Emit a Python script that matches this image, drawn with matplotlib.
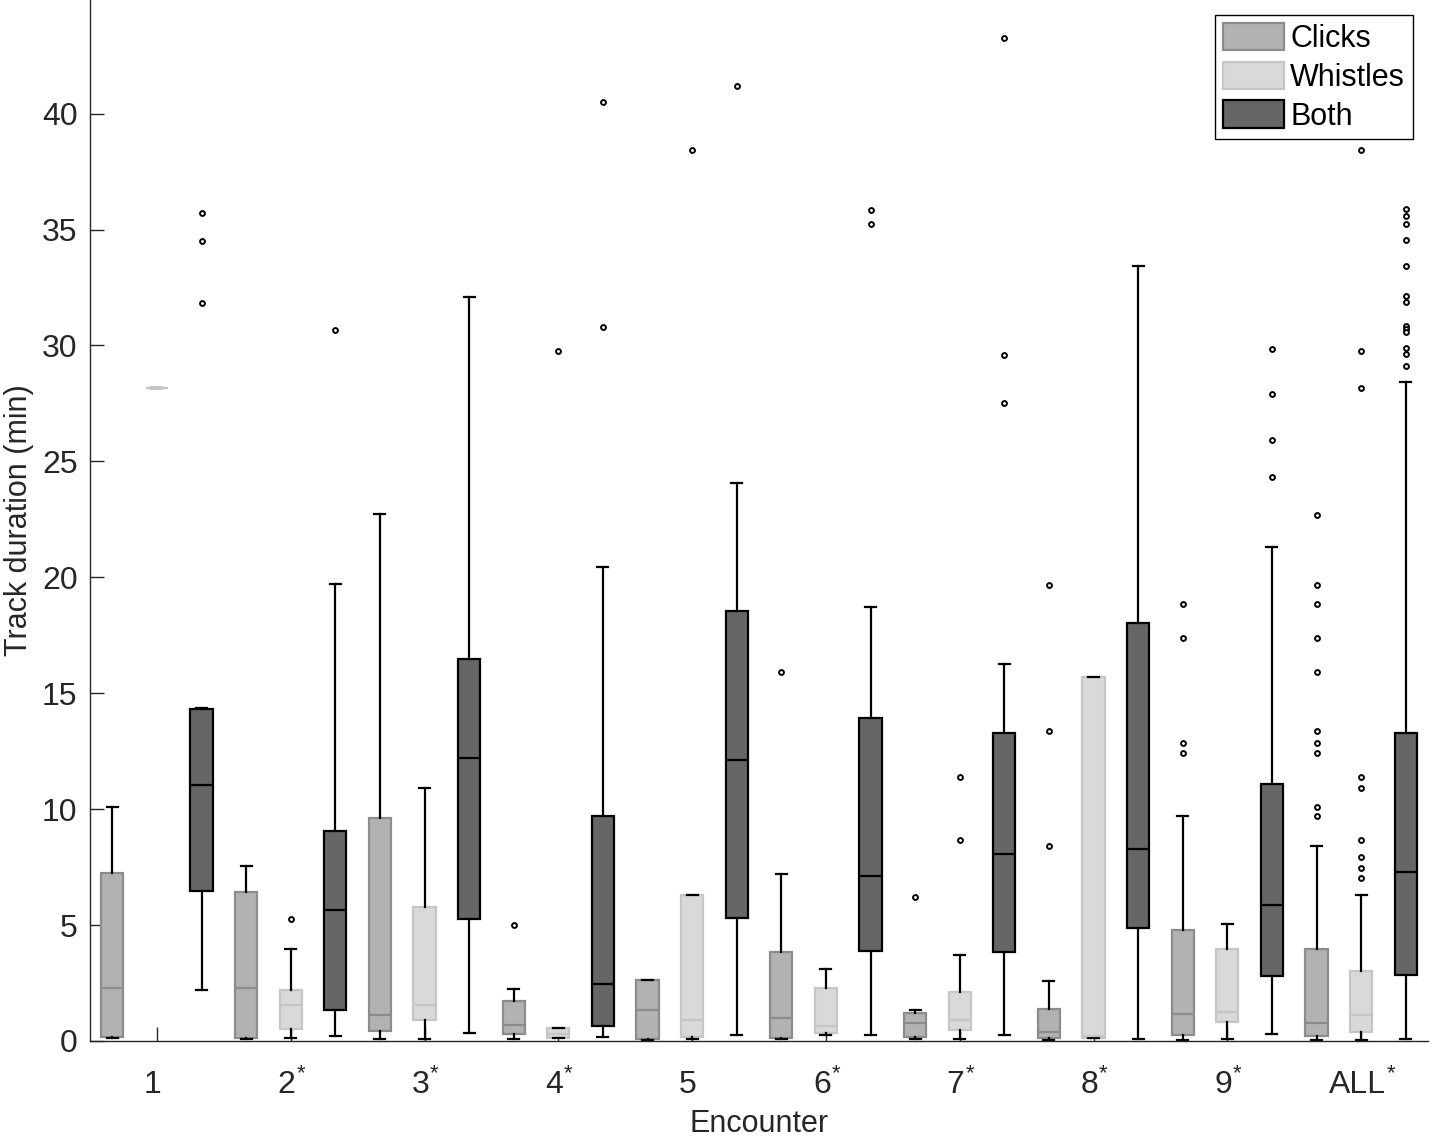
import matplotlib
matplotlib.use("Agg")
import matplotlib.pyplot as plt
from matplotlib.patches import Patch
from matplotlib.transforms import ScaledTranslation

plt.rcParams["font.family"] = ["Liberation Sans", "DejaVu Sans"]

encounters = ["1", "2", "3", "4", "5", "6", "7", "8", "9", "ALL"]
starred = [False, True, True, True, False, True, True, True, True, True]
types = ["Clicks", "Whistles", "Both"]

# box plot summary values (minutes)
clicks_lo = [0.11, 0.08, 0.08, 0.10, 0.05, 0.08, 0.08, 0.06, 0.06, 0.06]
clicks_q1 = [0.16, 0.13, 0.43, 0.29, 0.08, 0.13, 0.16, 0.13, 0.24, 0.21]
clicks_med = [2.30, 2.30, 1.14, 0.71, 1.35, 1.00, 0.79, 0.40, 1.16, 0.79]
clicks_q3 = [7.26, 6.42, 9.62, 1.74, 2.65, 3.85, 1.22, 1.39, 4.80, 3.98]
clicks_hi = [10.09, 7.56, 22.72, 2.25, 2.65, 7.21, 1.35, 2.58, 9.70, 8.42]
clicks_out = [[], [], [], [4.99], [], [15.93], [6.23],
              [19.67, 13.38, 8.42],
              [18.84, 17.38, 12.87, 12.42],
              [22.70, 19.67, 18.84, 17.38, 15.93, 13.38, 12.87, 12.42, 10.09, 9.71]]

whistles_lo = [28.15, 0.13, 0.08, 0.15, 0.08, 0.27, 0.08, 0.14, 0.08, 0.06]
whistles_q1 = [28.15, 0.52, 0.92, 0.15, 0.16, 0.36, 0.48, 0.14, 0.81, 0.38]
whistles_med = [28.15, 1.57, 1.57, 0.30, 0.92, 0.63, 0.89, 0.20, 1.25, 1.11]
whistles_q3 = [28.15, 2.22, 5.80, 0.57, 6.31, 2.27, 2.12, 15.71, 3.98, 3.03]
whistles_hi = [28.15, 3.98, 10.92, 0.57, 6.31, 3.09, 3.69, 15.71, 5.04, 6.29]
whistles_out = [[], [5.26], [], [29.75], [38.45], [], [11.39, 8.67], [], [],
                [38.45, 29.77, 28.16, 11.39, 10.92, 8.67, 7.94, 7.46, 7.04]]

both_lo = [2.22, 0.21, 0.35, 0.16, 0.27, 0.27, 0.27, 0.08, 0.30, 0.08]
both_q1 = [6.45, 1.33, 5.26, 0.63, 5.31, 3.88, 3.82, 4.88, 2.79, 2.84]
both_med = [11.06, 5.66, 12.20, 2.46, 12.12, 7.10, 8.07, 8.27, 5.86, 7.29]
both_q3 = [14.33, 9.06, 16.48, 9.71, 18.54, 13.95, 13.30, 18.03, 11.09, 13.30]
both_hi = [14.37, 19.70, 32.08, 20.44, 24.08, 18.73, 16.24, 33.44, 21.32, 28.41]
both_out = [[35.72, 34.52, 31.85], [30.65], [], [40.50, 30.80], [41.20],
            [35.86, 35.25], [43.24, 29.60, 27.53], [],
            [29.86, 27.92, 25.93, 24.34],
            [35.90, 35.60, 35.24, 34.56, 33.44, 32.14, 31.86, 30.82, 30.71,
             30.60, 29.89, 29.64, 29.11]]

series = {
    "Clicks": (clicks_lo, clicks_q1, clicks_med, clicks_q3, clicks_hi, clicks_out),
    "Whistles": (whistles_lo, whistles_q1, whistles_med, whistles_q3, whistles_hi, whistles_out),
    "Both": (both_lo, both_q1, both_med, both_q3, both_hi, both_out),
}
face = {"Clicks": "#b2b2b2", "Whistles": "#d9d9d9", "Both": "#666666"}
edge = {"Clicks": "#8c8c8c", "Whistles": "#c6c6c6", "Both": "#000000"}

FS = 22
TXT = "#262626"
fig = plt.figure(figsize=(14.32, 11.36), dpi=100)
ax = fig.add_axes([90 / 1432, 1 - 1041 / 1136, 1338 / 1432, 1041 / 1136])

for t, name in enumerate(types):
    lo, q1, med, q3, hi, out = series[name]
    stats = [dict(whislo=lo[i], q1=q1[i], med=med[i], q3=q3[i], whishi=hi[i],
                  fliers=out[i]) for i in range(len(encounters))]
    pos = [3 * i + t + 1 for i in range(len(encounters))]
    ax.bxp(stats, positions=pos, widths=0.5, patch_artist=True, manage_ticks=False,
           boxprops=dict(facecolor=face[name], edgecolor=edge[name], linewidth=1.6),
           medianprops=dict(color=edge[name], linewidth=1.6),
           whiskerprops=dict(color="black", linewidth=1.6),
           capprops=dict(color="black", linewidth=1.6),
           flierprops=dict(marker="o", markersize=3.5, markerfacecolor="white",
                           markeredgecolor="black", markeredgewidth=1.4))

ax.set_xlim(0.5, 30.5)
ax.set_ylim(0, 44.9)
ticks = [3 * i + 2 for i in range(len(encounters))]
ax.set_xticks(ticks)
ax.set_xticklabels(encounters)
ax.set_yticks(range(0, 45, 5))
ax.tick_params(axis="both", direction="in", length=10, width=1, labelsize=23,
               colors=TXT)
ax.tick_params(axis="x", pad=21)
ax.tick_params(axis="y", pad=9)
shift = ScaledTranslation(-4 / 100, 0, fig.dpi_scale_trans)
for lab in ax.get_xticklabels():
    lab.set_transform(lab.get_transform() + shift)

for side in ("top", "right"):
    ax.spines[side].set_visible(False)
for side in ("left", "bottom"):
    ax.spines[side].set_color(TXT)
    ax.spines[side].set_linewidth(1)

ax.set_xlabel("Encounter", fontsize=FS, color=TXT, labelpad=6)
ax.set_ylabel("Track duration (min)", fontsize=FS, color=TXT, labelpad=6)

handles = [Patch(facecolor=face[n], edgecolor=edge[n], linewidth=1.6, label=n) for n in types]
leg = ax.legend(handles=handles, loc="upper right", fontsize=FS, fancybox=False,
                framealpha=1, edgecolor="black", handlelength=2.0, handleheight=1.0,
                handletextpad=0.2, labelspacing=0.25, borderpad=0.25,
                borderaxespad=0.5)
leg.get_frame().set_linewidth(1)

# superscript asterisks just right of the starred tick labels
fig.canvas.draw()
renderer = fig.canvas.get_renderer()
for lab, s in zip(ax.get_xticklabels(), starred):
    if s:
        bb = lab.get_window_extent(renderer)
        ax.annotate("*", xy=(bb.x1, bb.y1), xycoords="figure pixels",
                    xytext=(0.5, 5), textcoords="offset points",
                    ha="left", va="top", fontsize=16, color=TXT)

fig.savefig("out.png", dpi=100)
